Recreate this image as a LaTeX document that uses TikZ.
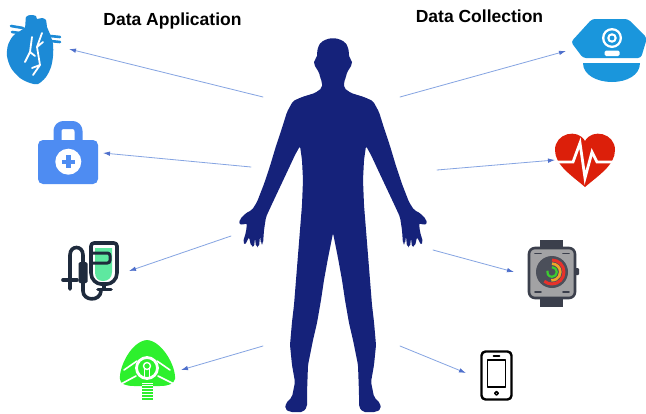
\documentclass[tikz,border=0pt]{standalone}
\usepackage{fontspec}
\setmainfont{Liberation Sans}
\usetikzlibrary{arrows.meta}
\definecolor{bodyblue}{HTML}{15227A}
\definecolor{linkblue}{HTML}{85A4E2}
\definecolor{tipblue}{HTML}{4F70CC}
\definecolor{organblue}{HTML}{1C8AD6}
\definecolor{kitblue}{HTML}{4E8CF2}
\definecolor{ivdark}{HTML}{1F2B3D}
\definecolor{ivgreen}{HTML}{5EE8A0}
\definecolor{maskgreen}{HTML}{2DF02D}
\definecolor{hatblue}{HTML}{1A96DC}
\definecolor{pulsered}{HTML}{DC1F0A}
\definecolor{watchdark}{HTML}{3B3F4C}
\definecolor{watchgray}{HTML}{A2A2A4}
\definecolor{watchface}{HTML}{4B4F5A}
\definecolor{ringred}{HTML}{E8312A}
\definecolor{ringorange}{HTML}{F0A428}
\definecolor{ringgreen}{HTML}{3CCC30}
\tikzset{
  link/.style={draw=linkblue, line width=0.8pt, -{Latex[length=7pt,width=4.5pt,color=tipblue]}},
  heading/.style={font=\fontsize{17.5}{20}\selectfont\bfseries, anchor=base, inner sep=0pt}
}
\begin{document}
\begin{tikzpicture}[x=1pt,y=-1pt, line join=round, line cap=round]
\useasboundingbox (0,0) rectangle (646,413);
\fill[white] (0,0) rectangle (646,413);

% headings
\node[heading] (apptitle) at (172.5,25) {Data Application};
\node[heading] (coltitle) at (479.5,22.5) {Data Collection};

% human silhouette
\fill[bodyblue, rounded corners=2pt]
 (333,38) -- (327,39) -- (321,42) -- (318,47) -- (317,53) -- (317,58) -- (314,60) -- (314,64) -- (316,68) -- (319,72) -- (320,77) -- (322,82) -- (322,88) -- (315,93) -- (302,97) -- (293,101) -- (287,112) -- (282,128) -- (276,146) -- (270,166) -- (264,184) -- (257,202) -- (252,210) -- (246,213) -- (240,219) -- (239,224) -- (243,225) -- (247,223) -- (246,232) -- (243,242) -- (245,245) -- (249,237) -- (251,246) -- (254,247) -- (255,238) -- (256,247) -- (259,247) -- (260,236) -- (261,244) -- (263,244) -- (264,230) -- (266,217) -- (272,204) -- (280,187) -- (288,170) -- (295,155) -- (300,146) -- (302,160) -- (303,180) -- (302,205) -- (300,230) -- (298,255) -- (296,280) -- (294,305) -- (292,322) -- (290,345) -- (292,365) -- (295,382) -- (292,397) -- (286,403) -- (285,409) -- (290,412) -- (303,412) -- (307,407) -- (307,393) -- (308,365) -- (313,340) -- (317,323) -- (321,300) -- (324,280) -- (328,258) -- (333,233)
 -- (338,258) -- (342,280) -- (345,300) -- (349,323) -- (353,340) -- (358,365) -- (359,393) -- (359,407) -- (363,412) -- (376,412) -- (381,409) -- (380,403) -- (374,397) -- (371,382) -- (374,365) -- (376,345) -- (374,322) -- (372,305) -- (370,280) -- (368,255) -- (366,230) -- (364,205) -- (363,180) -- (364,160) -- (366,146) -- (371,155) -- (378,170) -- (386,187) -- (394,204) -- (400,217) -- (402,230) -- (403,244) -- (405,244) -- (406,236) -- (407,247) -- (410,247) -- (411,238) -- (412,247) -- (415,246) -- (417,237) -- (421,245) -- (423,242) -- (420,232) -- (419,223) -- (423,225) -- (427,224) -- (426,219) -- (420,213) -- (414,210) -- (409,202) -- (402,184) -- (396,166) -- (390,146) -- (384,128) -- (379,112) -- (373,101) -- (364,97) -- (351,93) -- (344,88) -- (344,82) -- (346,77) -- (347,72) -- (350,68) -- (352,64) -- (352,60) -- (349,58) -- (349,53) -- (348,47) -- (345,42) -- (339,39) -- cycle;

% anatomical heart
\fill[organblue] plot[smooth cycle, tension=0.5] coordinates {(26,17) (31,15) (36,16) (37,19) (42,18) (46,20) (47,27) (50,34) (53,44) (53,56) (51,67) (46,77) (38,84) (30,83) (20,78) (11,68) (7,56) (8,45) (13,36) (20,31) (25,27)};
\draw[organblue, line width=2.6] (11,26) -- (23,28) (12,32) -- (20,33) (50,36) -- (60,37) (50,41) -- (60,42);
\draw[white, line width=1.8] (32,37) -- (30,52) -- (25,62) (30,52) -- (35,56);
\draw[white, line width=1.8] (42,33) -- (37,47) -- (40,65) -- (33,75) (37,47) -- (43,42) (40,65) -- (32,68);

% first-aid kit
\draw[kitblue, line width=8, rounded corners=6, line cap=butt] (57.5,142) -- (57.5,125) -- (78.5,125) -- (78.5,142);
\fill[kitblue, rounded corners=5] (38,140) rectangle (98,184);
\fill[white] (68.3,161.7) circle[radius=13];
\fill[kitblue] (66.1,155) rectangle (70.5,168.4);
\fill[kitblue] (61.6,159.5) rectangle (75,163.9);

% infusion bag
\fill[ivgreen] (95,248) -- (112,248) -- (112,272) .. controls (112,278) and (108,281) .. (103,281) .. controls (98,281) and (95,278) .. (95,272) -- cycle;
\draw[ivdark, line width=3.6, rounded corners=3] (91,243) -- (117,243) -- (117,270) .. controls (117,280) and (111,284) .. (104,284) .. controls (97,284) and (91,280) .. (91,270) -- cycle;
\draw[ivdark, line width=3, rounded corners=2.5] (92,253) -- (110,253) -- (110,263) -- (92,263);
\draw[ivdark, line width=3.6] (83,262) -- (83,255) .. controls (83,245) and (70,245) .. (70,255) -- (70,289);
\draw[ivdark, line width=3.6] (63,280) -- (77,280);
\fill[ivdark, rounded corners=1.5] (78.5,262) rectangle (87.5,283);
\draw[ivdark, line width=3.6] (83,283) -- (83,291) .. controls (83,301) and (100,302) .. (101,291);
\draw[ivdark, line width=3.6] (104,284) -- (104,289) (98,289.5) -- (111,289.5);

% oxygen mask
\fill[maskgreen] (147,340) .. controls (162,341) and (176,366) .. (175,379) .. controls (174,384) and (168,386) .. (160,386) -- (134,386) .. controls (126,386) and (120,384) .. (120,379) .. controls (119,366) and (132,341) .. (147,340) -- cycle;
\fill[maskgreen] (142,378) rectangle (153,400);
\foreach \yy in {383,385.8,388.6,391.4,394.2,397} {\draw[white, line width=0.8, line cap=butt] (142,\yy) -- (153,\yy);}
\draw[white, line width=1.6] (124,370) -- (137,361) (136,376) -- (121,384) (157,361) -- (170,370) (158,376) -- (174,384);
\draw[white, line width=2.8] (147,368) circle[radius=10.5];
\draw[white, line width=1.4] (147,366) circle[radius=3.5];
\draw[white, line width=1.4] (144.5,369) -- (144.5,377) (149.5,369) -- (149.5,377);

% police cap with camera
\fill[hatblue, rounded corners=3] (583,58) -- (571,42) -- (592,19) -- (628,19) -- (647,38) -- (641,58) -- cycle;
\fill[hatblue] (583,63) -- (640,63) .. controls (640,75) and (627,82) .. (612,82) .. controls (597,82) and (583,75) .. (583,63) -- cycle;
\fill[white] (612,38) circle[radius=10];
\fill[hatblue] (612,38) circle[radius=7.6];
\fill[white] (612,38) circle[radius=4.8];
\fill[hatblue] (612,38) circle[radius=2.4];
\fill[white, rounded corners=1.5] (604.5,50.5) rectangle (619.5,56);

% heart with pulse
\fill[pulsered] (585,187) .. controls (571,175) and (555,165) .. (555,150) .. controls (555,133) and (578,128) .. (585,141) .. controls (592,128) and (615,133) .. (615,150) .. controls (615,165) and (599,175) .. (585,187) -- cycle;
\draw[white, line width=2.8, line join=miter, line cap=butt] (553,162) -- (573,162) -- (580,143) -- (585,178) -- (592,152) -- (597,162) -- (617,162);

% smartwatch
\fill[watchdark] (540,240) rectangle (563,250);
\fill[watchdark] (540,296) rectangle (563,307);
\fill[watchdark, rounded corners=1] (574,268) rectangle (579,275);
\filldraw[fill=watchgray, draw=watchdark, line width=2.6, rounded corners=6] (529,248) rectangle (575,298);
\draw[watchdark, line width=1.6] (535,253.5) -- (541,253.5) (563,253.5) -- (569,253.5) (535,292) -- (541,292) (563,292) -- (569,292);
\fill[watchface] (552,272) circle[radius=16];
\draw[ringred, line width=3, line cap=butt] (552,272) ++(-90:12) arc[start angle=-90, end angle=130, radius=12];
\draw[ringorange, line width=2.6, line cap=butt] (552,272) ++(-90:8.3) arc[start angle=-90, end angle=95, radius=8.3];
\draw[ringgreen, line width=2.2, line cap=butt] (552,272) ++(-90:4.8) arc[start angle=-90, end angle=195, radius=4.8];

% phone
\draw[black, line width=2.4, rounded corners=4] (481.5,351.5) rectangle (511.5,399.5);
\draw[black, line width=1.9] (487.5,360) rectangle (505.5,387);
\draw[black, line width=1.8] (493.5,355.6) -- (499.5,355.6);
\draw[black, line width=1.5] (496.5,393.3) circle[radius=1.8];

% arrow ends
\coordinate (fromA) at (263,97);  \coordinate (toA) at (69,49);
\coordinate (fromB) at (251,167); \coordinate (toB) at (103,153);
\coordinate (fromC) at (231,236); \coordinate (toC) at (129,271);
\coordinate (fromD) at (263,346); \coordinate (toD) at (181,370);
\coordinate (fromE) at (400,97);  \coordinate (toE) at (566,51);
\coordinate (fromF) at (437,170); \coordinate (toF) at (555,160);
\coordinate (fromG) at (433,250); \coordinate (toG) at (514,272);
\coordinate (fromH) at (400,346); \coordinate (toH) at (466,373);
\foreach \k in {A,B,C,D,E,F,G,H} {\draw[link] (from\k) -- (to\k);}
\end{tikzpicture}
\end{document}
